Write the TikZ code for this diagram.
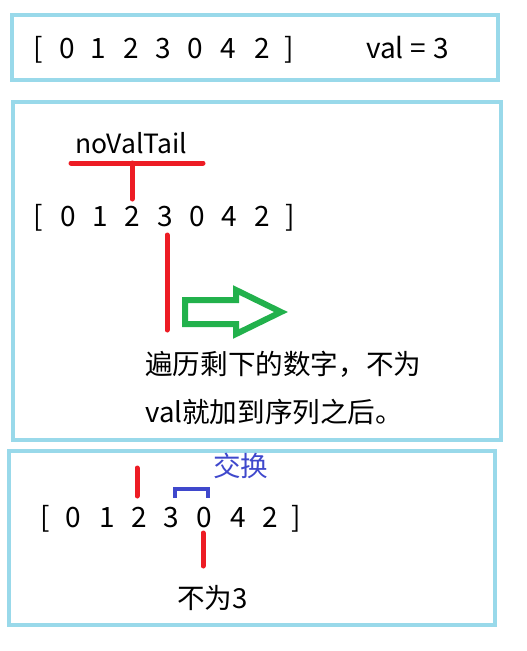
\documentclass[tikz,border=0pt]{standalone}
\usepackage{fontspec}
\setmainfont{Noto Sans CJK SC}
\definecolor{frame}{HTML}{99D9EA}
\definecolor{pred}{HTML}{ED1C24}
\definecolor{pgreen}{HTML}{22B14C}
\definecolor{pblue}{HTML}{3F48CC}
\tikzset{
  panel/.style={draw=frame, line width=4pt},
  digit/.style={anchor=base, inner sep=0pt, font=\fontsize{28}{30}\selectfont},
  txt/.style={anchor=base west, inner sep=0pt, font=\fontsize{27.6}{30}\selectfont},
  marker/.style={draw=pred, line width=5pt, line cap=round},
}
\begin{document}
\begin{tikzpicture}[x=1pt,y=-1pt]
\useasboundingbox (0,0) rectangle (527,651);
% panels
\draw[panel] (12,15) rectangle (498,80);
\draw[panel] (13,102) rectangle (501,440);
\draw[panel] (9,451) rectangle (495,625);

% panel 1
\foreach \c/\x/\n in {[/38/b, 0/67/d1, 1/98/d2, 2/131/d3, 3/163/d4, 0/195/d5, 4/228/d6, 2/262/d7, ]/289/e}
  \node[digit] (p\n) at (\x,58) {\c};
\node[txt, font=\fontsize{28}{30}\selectfont] (val) at (366,58) {val\hspace{7pt}=\hspace{7pt}3};

% panel 2
\foreach \c/\x/\n in {[/38/b, 0/68/d1, 1/100/d2, 2/132/d3, 3/165/d4, 0/197/d5, 4/229/d6, 2/262/d7, ]/290/e}
  \node[digit] (q\n) at (\x,226) {\c};
\node[txt, font=\fontsize{26.5}{30}\selectfont] (tail) at (75,153) {noValTail};
\coordinate (tl) at (71,163);
\coordinate (tr) at (203,163);
\coordinate (tm) at (132,163);
\coordinate (tb) at (132,199);
\draw[marker] (tl) -- (tr);
\draw[marker] (tm) -- (tb);
\coordinate (ct) at (167,235);
\coordinate (cb) at (167,330);
\draw[marker] (ct) -- (cb);
\draw[pgreen, line width=6pt, line join=miter]
  (185,300) -- (236,300) -- (236,290) -- (281,312) -- (236,334) -- (236,324) -- (185,324) -- cycle;
\node[txt] (desc1) at (145,374) {遍历剩下的数字，不为};
\node[txt] (desc2) at (145,422) {val就加到序列之后。};

% panel 3
\foreach \c/\x/\n in {[/45/b, 0/73/d1, 1/107/d2, 2/139/d3, 3/171/d4, 0/204/d5, 4/238/d6, 2/270/d7, ]/296/e}
  \node[digit] (r\n) at (\x,527) {\c};
\coordinate (mt) at (137,468);
\coordinate (mb) at (137,496);
\draw[marker] (mt) -- (mb);
\coordinate (s1) at (175,498);
\coordinate (s2) at (208,498);
\draw[pblue, line width=4pt] (s1) -- (175,489) -- (208,489) -- (s2);
\node[txt, text=pblue] (swap) at (213,476) {交换};
\coordinate (nt) at (203,533);
\coordinate (nb) at (203,566);
\draw[marker] (nt) -- (nb);
\node[txt] (not3) at (177,608) {不为3};
\end{tikzpicture}
\end{document}
